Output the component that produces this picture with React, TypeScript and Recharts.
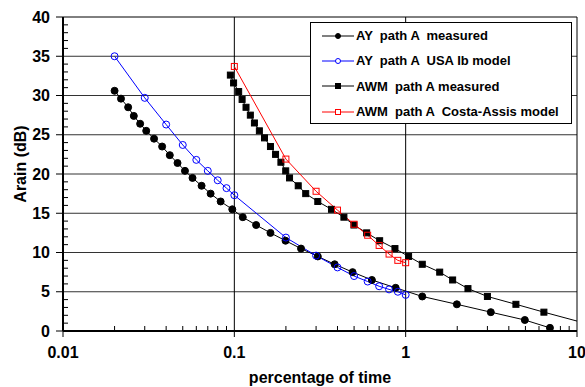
import { LineChart, Line, XAxis, YAxis, ReferenceLine, Legend, Label } from 'recharts'

// AY path A, measured (black dots)
const ayMeasuredX = [0.02, 0.0218, 0.024, 0.0259, 0.0282, 0.0306, 0.034, 0.0379, 0.042, 0.0466, 0.0515, 0.057, 0.0644, 0.0727, 0.0832, 0.0973, 0.112, 0.134, 0.1625, 0.199, 0.245, 0.307, 0.385, 0.49, 0.635, 0.874, 1.25, 1.99, 3.14, 4.96, 6.95]
const ayMeasuredY = [30.6, 29.6, 28.5, 27.4, 26.4, 25.5, 24.5, 23.5, 22.4, 21.4, 20.4, 19.5, 18.5, 17.5, 16.5, 15.5, 14.5, 13.5, 12.5, 11.5, 10.5, 9.5, 8.5, 7.5, 6.5, 5.5, 4.4, 3.4, 2.4, 1.4, 0.4]

// AY path A, USA Ib model (blue open circles)
const ayModelX = [0.02, 0.03, 0.04, 0.05, 0.06, 0.07, 0.08, 0.09, 0.1, 0.2, 0.3, 0.4, 0.5, 0.6, 0.7, 0.8, 0.9, 1]
const ayModelY = [35, 29.7, 26.3, 23.7, 21.8, 20.4, 19.2, 18.2, 17.3, 11.9, 9.6, 8.1, 7.0, 6.3, 5.7, 5.3, 5.0, 4.6]

// AWM path A, measured (black squares)
const awmMeasuredX = [0.0948, 0.099, 0.106, 0.111, 0.117, 0.124, 0.131, 0.14, 0.15, 0.1625, 0.174, 0.187, 0.1995, 0.21, 0.236, 0.261, 0.307, 0.369, 0.436, 0.499, 0.592, 0.705, 0.866, 1.04, 1.25, 1.58, 1.88, 2.31, 3.0, 4.4, 6.41, 13.5]
const awmMeasuredY = [32.6, 31.6, 30.5, 29.5, 28.5, 27.5, 26.5, 25.5, 24.6, 23.5, 22.5, 21.5, 20.4, 19.5, 18.5, 17.5, 16.5, 15.5, 14.5, 13.5, 12.5, 11.5, 10.5, 9.5, 8.5, 7.5, 6.5, 5.4, 4.4, 3.4, 2.4, 0.5]

// AWM path A, Costa-Assis model (red open squares)
const awmModelX = [0.1, 0.2, 0.3, 0.4, 0.5, 0.6, 0.7, 0.8, 0.9, 1]
const awmModelY = [33.7, 21.9, 17.8, 15.4, 13.6, 12.2, 10.9, 9.8, 9.0, 8.7]

const xDecades = [0.01, 0.1, 1, 10]
const xMinorMultipliers = [2, 3, 4, 5, 6, 7, 8, 9]
const yMajorTicks = [0, 5, 10, 15, 20, 25, 30, 35, 40]
const yMinorSteps = [1, 2, 3, 4]
const yGridLines = [5, 10, 15, 20, 25, 30, 35]
const Y_MAX = 40

const FONT = '"Liberation Sans", Arial, sans-serif'

// chart box
const W = 585
const H = 387
const MARGIN = { top: 17, right: 8, left: 0, bottom: 0 }
const Y_AXIS_W = 63
const X_AXIS_H = 56
const PLOT_W = W - MARGIN.left - MARGIN.right - Y_AXIS_W
const PLOT_H = H - MARGIN.top - MARGIN.bottom - X_AXIS_H
const DECADE_PX = PLOT_W / (xDecades.length - 1)
const UNIT_PX = PLOT_H / Y_MAX

const toPoints = (xs: number[], ys: number[]) => xs.map((x, i) => ({ x, y: ys[i] }))

// major tick + label, plus the inward minor ticks of the following decade
const XTick = ({ x, y, payload }: any) => {
  const last = payload.value === xDecades[xDecades.length - 1]
  return (
    <g>
      <line x1={x} x2={x} y1={y} y2={y + 6} stroke="#000" />
      {!last &&
        xMinorMultipliers.map((m) => {
          const mx = x + DECADE_PX * Math.log10(m)
          return <line key={m} x1={mx} x2={mx} y1={y - 1} y2={y - 5} stroke="#000" />
        })}
      <text x={x} y={y + 27} textAnchor="middle" fontFamily={FONT} fontWeight="bold" fontSize={16} fill="#000">
        {payload.value}
      </text>
    </g>
  )
}

const YTick = ({ x, y, payload }: any) => {
  const last = payload.value === Y_MAX
  return (
    <g>
      <line x1={x - 7} x2={x} y1={y} y2={y} stroke="#000" />
      {!last &&
        yMinorSteps.map((k) => (
          <line key={k} x1={x + 1} x2={x + 5} y1={y - k * UNIT_PX} y2={y - k * UNIT_PX} stroke="#000" />
        ))}
      <text x={x - 13} y={y + 5.5} textAnchor="end" fontFamily={FONT} fontWeight="bold" fontSize={16} fill="#000">
        {payload.value}
      </text>
    </g>
  )
}

const dotCircle = (fill: string, stroke: string) => (p: any) => {
  if (p.cx == null || p.cy == null) return <g key={p.index} />
  return <circle key={p.index} cx={p.cx} cy={p.cy} r={3.5} fill={fill} stroke={stroke} strokeWidth={1} />
}

const dotSquare = (fill: string, stroke: string) => (p: any) => {
  if (p.cx == null || p.cy == null) return <g key={p.index} />
  return <rect key={p.index} x={p.cx - 3} y={p.cy - 3} width={6} height={6} fill={fill} stroke={stroke} strokeWidth={1} />
}

const legendItems = [
  { label: 'AY  path A  measured', color: '#000', shape: 'circle', fill: '#000' },
  { label: 'AY  path A  USA Ib model', color: '#0000ff', shape: 'circle', fill: '#fff' },
  { label: 'AWM  path A measured', color: '#000', shape: 'square', fill: '#000' },
  { label: 'AWM  path A  Costa-Assis model', color: '#ff0000', shape: 'square', fill: '#fff' },
]

const renderLegend = () => (
  <div
    style={{
      width: 260,
      height: 100,
      border: '1px solid #000',
      background: '#fff',
      boxSizing: 'content-box',
      fontFamily: FONT,
      fontWeight: 'bold',
      fontSize: 13,
      color: '#000',
    }}
  >
    {legendItems.map((it) => (
      <div key={it.label} style={{ height: 25.3, display: 'flex', alignItems: 'center', paddingLeft: 11 }}>
        <svg width={32} height={10} style={{ marginRight: 2 }}>
          <line x1={0} x2={32} y1={5} y2={5} stroke={it.color} />
          {it.shape === 'circle' ? (
            <circle cx={16} cy={5} r={2.5} fill={it.fill} stroke={it.color} />
          ) : (
            <rect x={13.5} y={2.5} width={5} height={5} fill={it.fill} stroke={it.color} />
          )}
        </svg>
        <span style={{ whiteSpace: 'pre' }}>{it.label}</span>
      </div>
    ))}
  </div>
)

export default function App() {
  return (
    <div style={{ width: W, height: H }}>
      <style>{'body{margin:0;background:#fff}'}</style>
      <LineChart width={W} height={H} margin={MARGIN}>
        <XAxis
          dataKey="x"
          type="number"
          scale="log"
          domain={[0.01, 10]}
          allowDataOverflow
          ticks={xDecades}
          interval={0}
          tick={<XTick />}
          tickLine={false}
          tickSize={0}
          tickMargin={0}
          axisLine={{ stroke: '#000', strokeWidth: 2 }}
          height={X_AXIS_H}
        >
          <Label
            value="percentage of time"
            position="insideBottom"
            offset={4}
            style={{ fontFamily: FONT, fontWeight: 'bold', fontSize: 16, fill: '#000' }}
          />
        </XAxis>
        <YAxis
          type="number"
          domain={[0, Y_MAX]}
          ticks={yMajorTicks}
          interval={0}
          tick={<YTick />}
          tickLine={false}
          tickSize={0}
          tickMargin={0}
          axisLine={{ stroke: '#000', strokeWidth: 2 }}
          width={Y_AXIS_W}
        >
          <Label
            content={() => (
              <text
                x={20}
                y={164}
                transform="rotate(-90 20 164)"
                textAnchor="middle"
                dominantBaseline="central"
                fontFamily={FONT}
                fontWeight="bold"
                fontSize={16}
                fill="#000"
              >
                Arain (dB)
              </text>
            )}
          />
        </YAxis>

        {yGridLines.map((v) => (
          <ReferenceLine key={'gy' + v} y={v} stroke="#333" strokeWidth={1} />
        ))}
        <ReferenceLine y={Y_MAX} stroke="#000" strokeWidth={1} />
        <ReferenceLine x={0.1} stroke="#000" strokeWidth={1} />
        <ReferenceLine x={1} stroke="#000" strokeWidth={1} />
        <ReferenceLine x={10} stroke="#000" strokeWidth={1} />

        <Line
          data={toPoints(ayMeasuredX, ayMeasuredY)}
          dataKey="y"
          type="linear"
          stroke="#000"
          strokeWidth={1}
          dot={dotCircle('#000', '#000')}
          isAnimationActive={false}
          name="AY  path A  measured"
        />
        <Line
          data={toPoints(ayModelX, ayModelY)}
          dataKey="y"
          type="linear"
          stroke="#0000ff"
          strokeWidth={1}
          dot={dotCircle('none', '#0000ff')}
          isAnimationActive={false}
          name="AY  path A  USA Ib model"
        />
        <Line
          data={toPoints(awmMeasuredX, awmMeasuredY)}
          dataKey="y"
          type="linear"
          stroke="#000"
          strokeWidth={1}
          dot={dotSquare('#000', '#000')}
          isAnimationActive={false}
          name="AWM  path A measured"
        />
        <Line
          data={toPoints(awmModelX, awmModelY)}
          dataKey="y"
          type="linear"
          stroke="#ff0000"
          strokeWidth={1}
          dot={dotSquare('none', '#ff0000')}
          isAnimationActive={false}
          name="AWM  path A  Costa-Assis model"
        />

        <Legend
          content={renderLegend}
          layout="vertical"
          align="center"
          verticalAlign="middle"
          wrapperStyle={{ left: 310, top: 22, width: 262, height: 102 }}
        />
      </LineChart>
    </div>
  )
}
